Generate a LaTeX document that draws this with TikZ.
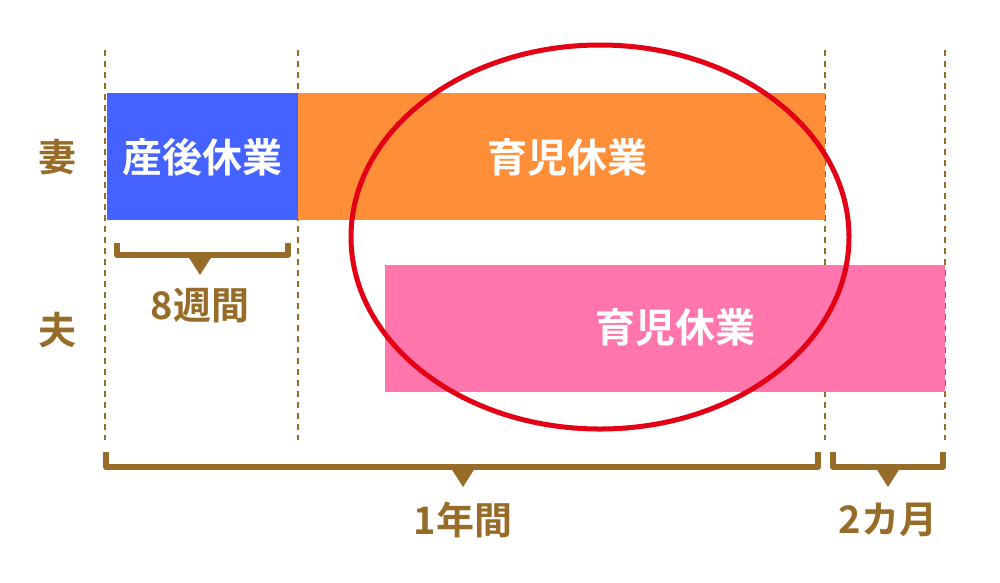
\documentclass[tikz,border=0pt]{standalone}
\usepackage{fontspec}
\newfontfamily\jpfont{Noto Sans CJK JP Bold}
\usepackage{tikz}
\definecolor{brn}{RGB}{150,108,40}
\definecolor{blu}{RGB}{68,98,255}
\definecolor{org}{RGB}{255,142,56}
\definecolor{pnk}{RGB}{255,117,172}
\definecolor{rd}{RGB}{228,0,20}
\tikzset{
  guide/.style={draw=brn,dash pattern=on 6pt off 5pt,line width=1.2},
  brk/.style={draw=brn,line width=6,line join=round},
  tip/.style={fill=brn,draw=none},
  wtxt/.style={text=white,font=\jpfont\fontsize{40}{46}\selectfont},
  btxt/.style={text=brn,font=\jpfont\fontsize{38}{44}\selectfont}
}
\begin{document}
\begin{tikzpicture}[x=1pt,y=1pt,yscale=-1,xscale=1]
    \useasboundingbox (0,0) rectangle (1000,582);
    % guides
    \foreach \gx in {105,298,825,945}
        \draw [guide] (\gx,50) -- (\gx,440);
    % bars
    \fill [blu] (107,93) rectangle (298,220);
    \fill [org] (298,93) rectangle (825,220);
    \fill [pnk] (385,265) rectangle (945,392);
    % Text Node
    \node [wtxt] (sanngo) at (202,157) {産後休業};
    \node [wtxt] (ikujiw) at (567,157) {育児休業};
    \node [wtxt] (ikujih) at (675,327) {育児休業};
    % circle
    \draw [rd,line width=5] (600,237) ellipse [x radius=249,y radius=192];
    % rows
    \node [btxt] (tsuma) at (57,157) {妻};
    \node [btxt] (otto) at (57,330) {夫};
    % brackets
    \draw [brk] (117,243) -- (117,255) -- (288,255) -- (288,243);
    \fill [tip] (186,253) -- (214,253) -- (200,275) -- cycle;
    \node [btxt] (week) at (200,305) {8週間};
    \draw [brk] (106,452) -- (106,467) -- (818,467) -- (818,452);
    \fill [tip] (449,465) -- (477,465) -- (463,487) -- cycle;
    \node [btxt] (year) at (463,520) {1年間};
    \draw [brk] (833,452) -- (833,467) -- (943,467) -- (943,452);
    \fill [tip] (874,465) -- (902,465) -- (888,487) -- cycle;
    \node [btxt] (month) at (888,520) {2カ月};
\end{tikzpicture}
\end{document}
